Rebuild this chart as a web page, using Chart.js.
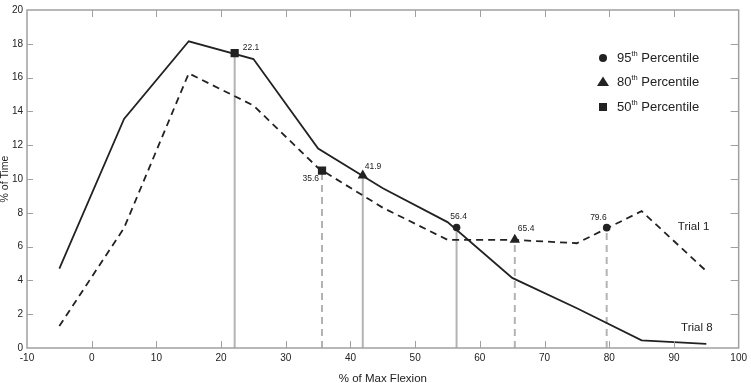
<!DOCTYPE html>
<html>
<head>
<meta charset="utf-8">
<script src="https://cdn.jsdelivr.net/npm/chart.js@4.4.0/dist/chart.umd.min.js"></script>
<style>
  html, body { margin: 0; padding: 0; background: #fff; }
  #wrap { width: 751px; height: 383px; }
</style>
</head>
<body>
<div id="wrap"><canvas id="chart"></canvas></div>
<script>
// % of max flexion bins
const flexion = [-5, 5, 15, 25, 35, 45, 55, 65, 75, 85, 95];
const trial8 = [4.7, 13.55, 18.15, 17.1, 11.8, 9.45, 7.45, 4.15, 2.35, 0.45, 0.25];
const trial1 = [1.3, 7.1, 16.25, 14.35, 10.65, 8.3, 6.4, 6.4, 6.2, 8.1, 4.55];

// percentile markers, first value is Trial 8, second Trial 1
const p95x = [56.4, 79.6];
const p95y = [7.13, 7.12];
const p80x = [41.9, 65.4];
const p80y = [10.2, 6.4];
const p50x = [22.1, 35.6];
const p50y = [17.45, 10.5];

const xTicks = [-10, 0, 10, 20, 30, 40, 50, 60, 70, 80, 90, 100];
const yTicks = [0, 2, 4, 6, 8, 10, 12, 14, 16, 18, 20];

const FONT = '"Liberation Sans", Arial, sans-serif';
const INK = '#222';
const GRAY = '#b3b3b3';

const pts = (xs, ys) => xs.map((x, i) => ({ x: x, y: ys[i] }));
const drop = (x, y, dashed) => ({
  data: [{ x: x, y: 0 }, { x: x, y: y }],
  showLine: true,
  borderColor: GRAY,
  borderWidth: 2,
  borderDash: dashed ? [7, 5] : [],
  pointRadius: 0,
  order: 3
});

const dropLines = [];
[[p95x, p95y], [p80x, p80y], [p50x, p50y]].forEach(([xs, ys]) => {
  dropLines.push(drop(xs[0], ys[0], false));
  dropLines.push(drop(xs[1], ys[1], true));
});

// label placement for each marker: [dx, dy, align]
const labelPlace = {
  p95: [[2, -11, 'center'], [0, -10, 'right']],
  p80: [[2, -9, 'left'], [3, -11, 'left']],
  p50: [[8, -5, 'left'], [-3, 8, 'right']]
};

const overlay = {
  id: 'overlay',
  afterDatasetsDraw(chart) {
    const ctx = chart.ctx;
    const a = chart.chartArea;
    const xs = chart.scales.x, ys = chart.scales.y;
    ctx.save();

    // frame and inward ticks
    ctx.strokeStyle = '#a0a0a0';
    ctx.lineWidth = 1.5;
    ctx.strokeRect(a.left, a.top, a.right - a.left, a.bottom - a.top);
    ctx.lineWidth = 1;
    ctx.beginPath();
    xTicks.slice(1, -1).forEach(v => {
      const px = Math.round(xs.getPixelForValue(v)) + 0.5;
      ctx.moveTo(px, a.bottom); ctx.lineTo(px, a.bottom - 7);
      ctx.moveTo(px, a.top); ctx.lineTo(px, a.top + 7);
    });
    yTicks.slice(1, -1).forEach(v => {
      const py = Math.round(ys.getPixelForValue(v)) + 0.5;
      ctx.moveTo(a.left, py); ctx.lineTo(a.left + 6, py);
      ctx.moveTo(a.right, py); ctx.lineTo(a.right - 8, py);
    });
    ctx.stroke();

    // axis titles
    ctx.fillStyle = INK;
    ctx.textAlign = 'center';
    ctx.textBaseline = 'middle';
    ctx.font = '11.5px ' + FONT;
    ctx.fillText('% of Max Flexion', (a.left + a.right) / 2, 378.5);
    ctx.save();
    ctx.translate(5, (a.top + a.bottom) / 2);
    ctx.rotate(-Math.PI / 2);
    ctx.font = '10.5px ' + FONT;
    ctx.fillText('% of Time', 0, 0);
    ctx.restore();

    // value labels next to markers
    ctx.font = '8.5px ' + FONT;
    const groups = [['p95', 0, p95x], ['p80', 1, p80x], ['p50', 2, p50x]];
    groups.forEach(([key, di, xsData]) => {
      const meta = chart.getDatasetMeta(di);
      meta.data.forEach((el, i) => {
        const [dx, dy, al] = labelPlace[key][i];
        ctx.textAlign = al;
        ctx.fillText(xsData[i].toFixed(1), el.x + dx, el.y + dy);
      });
    });

    // series labels
    ctx.font = '11.5px ' + FONT;
    ctx.textAlign = 'left';
    ctx.fillText('Trial 1', xs.getPixelForValue(90.6), ys.getPixelForValue(7.15));
    ctx.fillText('Trial 8', xs.getPixelForValue(91.1), ys.getPixelForValue(1.22));

    // legend
    const lx = 603, tx = 617;
    const rows = [['95', 58, 'circle'], ['80', 82, 'triangle'], ['50', 107, 'rect']];
    rows.forEach(([num, y, shape]) => {
      ctx.fillStyle = INK;
      ctx.beginPath();
      if (shape === 'circle') {
        ctx.arc(lx, y, 4, 0, Math.PI * 2);
      } else if (shape === 'triangle') {
        ctx.moveTo(lx, y - 5.5); ctx.lineTo(lx + 6, y + 4); ctx.lineTo(lx - 6, y + 4); ctx.closePath();
      } else {
        ctx.rect(lx - 4, y - 4, 8, 8);
      }
      ctx.fill();
      ctx.textAlign = 'left';
      ctx.textBaseline = 'middle';
      ctx.font = '13px ' + FONT;
      ctx.fillText(num, tx, y);
      let w = ctx.measureText(num).width;
      ctx.font = '7.5px ' + FONT;
      ctx.fillText('th', tx + w, y - 4);
      w += ctx.measureText('th').width;
      ctx.font = '13px ' + FONT;
      ctx.fillText(' Percentile', tx + w, y);
    });
    ctx.restore();
  }
};

new Chart(document.getElementById('chart'), {
  type: 'scatter',
  data: {
    datasets: [
      { label: '95th', data: pts(p95x, p95y), pointStyle: 'circle', pointRadius: 3.8, backgroundColor: INK, borderColor: INK, borderWidth: 0, order: 0 },
      { label: '80th', data: pts(p80x, p80y), pointStyle: 'triangle', pointRadius: 6, backgroundColor: INK, borderColor: INK, borderWidth: 0, order: 0 },
      { label: '50th', data: pts(p50x, p50y), pointStyle: 'rect', pointRadius: 5.8, backgroundColor: INK, borderColor: INK, borderWidth: 0, order: 0 },
      { label: 'Trial 8', data: pts(flexion, trial8), showLine: true, borderColor: INK, borderWidth: 1.8, pointRadius: 0, order: 1 },
      { label: 'Trial 1', data: pts(flexion, trial1), showLine: true, borderColor: INK, borderWidth: 1.8, borderDash: [7, 5], pointRadius: 0, order: 1 },
      ...dropLines
    ]
  },
  options: {
    responsive: true,
    maintainAspectRatio: false,
    animation: false,
    layout: { padding: { top: 3, right: 8, left: 0, bottom: 0 } },
    plugins: { legend: { display: false }, tooltip: { enabled: false } },
    scales: {
      x: {
        type: 'linear', min: -10, max: 100,
        afterBuildTicks: s => { s.ticks = xTicks.map(v => ({ value: v })); },
        ticks: { color: INK, font: { family: FONT, size: 10 }, padding: 4, maxRotation: 0 },
        grid: { display: false, drawTicks: false },
        border: { display: false },
        afterFit: s => { s.height = 35; }
      },
      y: {
        type: 'linear', min: 0, max: 20,
        afterBuildTicks: s => { s.ticks = yTicks.map(v => ({ value: v })); },
        ticks: { color: INK, font: { family: FONT, size: 10 }, padding: 4 },
        grid: { display: false, drawTicks: false },
        border: { display: false },
        afterFit: s => { s.width = 27; }
      }
    }
  },
  plugins: [overlay]
});
</script>
</body>
</html>
